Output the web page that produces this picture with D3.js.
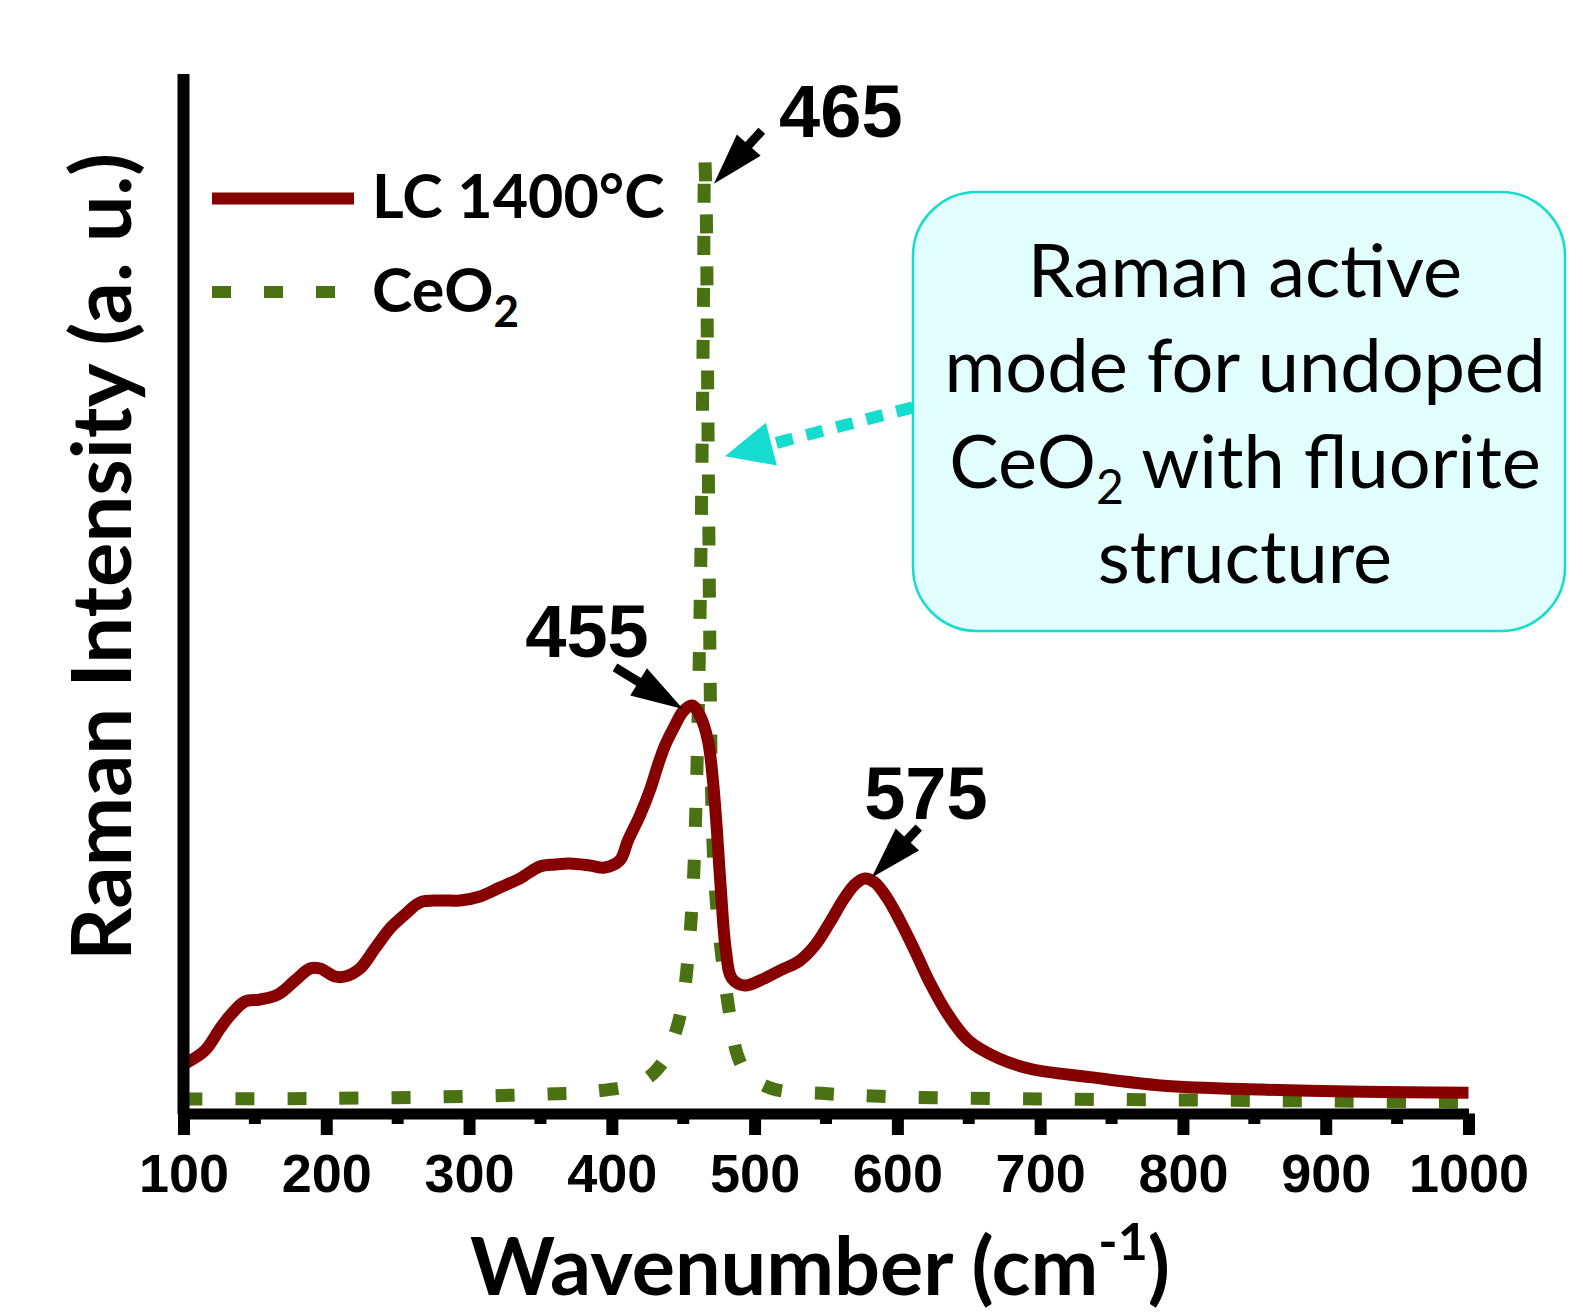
<html>
<head>
  <meta charset="utf-8">
  <script src="https://cdn.jsdelivr.net/npm/d3@7"></script>
  <style>
    body { margin: 0; background: #fff; }
  </style>
</head>
<body>
<svg id="chart" width="1583" height="1312"></svg>
<script>
// ---- data ----
// LC 1400°C spectrum : wavenumber (cm-1) / intensity (a.u.)
const lcWave = [101,115,125.6,132.6,143.1,153.6,166.2,178.1,188.6,195.6,206.1,213.1,223.6,234.1,244.6,255.1,265.6,279.6,293.6,307.6,321.6,335.6,349.6,360.2,370.6,384.6,395.1,405.6,411.3,419.6,426.6,432.2,437.2,444.2,449.8,456.1,461.7,467.3,470.8,473.6,476.4,479.9,484.1,493.2,503.7,517.7,531.7,542.2,552.7,561.8,570.2,577.2,584.2,592.6,601.7,612.2,622.7,636,650,671,692.8,734.8,784.5,855,926,1000]
const lcInt  = [4.8,6.06,8.17,9.42,10.77,10.96,11.44,12.79,13.94,13.94,13.17,13.17,13.94,15.87,17.79,19.13,20.29,20.48,20.48,20.87,21.73,22.6,23.75,23.94,24.04,23.85,23.65,24.33,26.25,28.65,31.06,33.46,35.38,37.31,38.65,39.23,38.27,35.87,32.02,27.21,21.44,15.67,12.98,12.31,12.79,13.75,14.71,16.15,18.37,20.48,22.02,22.6,22.21,20.77,18.56,15.67,12.6,9.4,7.0,5.3,4.3,3.5,2.7,2.3,2.1,2.0]

// CeO2 spectrum
const ceWave = [100,200,300,350,385,420,435,445,450,454,457,459,461,462.5,463.5,464.3,465,466,467,468,469,470,471.5,474,478,482,488,495,512,551,600,700,800,900,1000]
const ceInt  = [1.4,1.45,1.65,1.85,2.1,3.0,4.8,8,11,16,22,30,42,55,68,80,92,88,72,55,40,30,24,19,14,10,5.6,3.8,2.4,1.9,1.6,1.4,1.3,1.2,1.1]

const xTicks = [100,200,300,400,500,600,700,800,900,1000]
const xMinor = [150,250,350,450,550,650,750,850,950]

// peak labels: text, label anchor (wavenumber, intensity), arrow tail -> tip
const peakLabels = ["465","455","575"]
const peakLabelPos = [[560.4,93.9],[382.6,43.9],[620,28.3]]
const peakArrowFrom = [[505,94.5],[402.2,42.9],[615,27.5]]
const peakArrowTo   = [[471.5,89.4],[449.8,38.9],[582,22.7]]

const calloutLines = ["Raman active","mode for undoped","CeO|2| with fluorite","structure"]
const calloutArrowFrom = [610.8,67.9]
const calloutArrowTo = [479.2,63.2]

const legendNames = ["LC 1400°C","CeO|2"]

// ---- drawing ----
const svg = d3.select("#chart")
const RED = "#870000", GREEN = "#4a7212", CYAN = "#14dccf"
const numFont = "'Liberation Sans', Arial, sans-serif"
const txtFont = "Lato, 'Open Sans', sans-serif"

const x = d3.scaleLinear().domain([100,1000]).range([183.5,1468.5])
const y = d3.scaleLinear().domain([0,100]).range([1113.5,73.5])

// spectra
const line = d3.line().x(d => x(d[0])).y(d => y(d[1])).curve(d3.curveCatmullRom.alpha(0.5))

svg.append("path")
   .datum(d3.zip(ceWave, ceInt))
   .attr("d", line)
   .attr("fill","none")
   .attr("stroke",GREEN)
   .attr("stroke-width",13)
   .attr("stroke-dasharray","19,33")

svg.append("path")
   .datum(d3.zip(lcWave, lcInt))
   .attr("d", line)
   .attr("fill","none")
   .attr("stroke",RED)
   .attr("stroke-width",12)
   .attr("stroke-linejoin","round")

// axes
const gx = svg.append("g").attr("transform","translate(0,1113.5)")
gx.call(d3.axisBottom(x).tickValues(xTicks).tickFormat(d3.format("d"))
          .tickSize(21.5).tickSizeOuter(0).tickPadding(18.5))
gx.select(".domain").attr("stroke","#000").attr("stroke-width",11)
gx.selectAll(".tick line").attr("stroke-width",12)
gx.selectAll(".tick text")
  .attr("font-family",numFont).attr("font-weight","bold").attr("font-size",54).attr("fill","#000")

gx.selectAll(".minor")
  .data(xMinor)
  .enter()
  .append("line")
  .attr("class","minor")
  .attr("x1",d => x(d)).attr("x2",d => x(d))
  .attr("y1",0).attr("y2",10.5)
  .attr("stroke","#000").attr("stroke-width",12)

const gy = svg.append("g").attr("transform","translate(183,0)")
gy.call(d3.axisLeft(y).tickValues([]).tickSizeOuter(0))
gy.select(".domain").attr("stroke","#000").attr("stroke-width",12)

// axis titles
const xt = svg.append("text")
   .attr("x",820).attr("y",1295)
   .attr("text-anchor","middle")
   .attr("font-family",txtFont).attr("font-weight","bold").attr("font-size",81)
xt.append("tspan").text("Wavenumber (cm")
xt.append("tspan").text("-1").attr("font-size",52).attr("dy",-35)
xt.append("tspan").text(")").attr("dy",35)

svg.append("text")
   .attr("transform","translate(131,557) rotate(-90)")
   .attr("text-anchor","middle")
   .attr("font-family",txtFont).attr("font-weight","bold").attr("font-size",83)
   .text("Raman Intensity (a. u.)")

// helper for text with subscripts written as "CeO|2|..."
function subText(sel, str, subSize, drop){
  str.split("|").forEach(function(part,i){
    if(part==="") return
    const t = sel.append("tspan").text(part)
    if(i%2==1){ t.attr("font-size",subSize).attr("dy",drop) }
    else if(i>0){ t.attr("dy",-drop) }
  })
}

// legend
const legend = svg.append("g")
legend.append("line").attr("x1",212).attr("x2",354).attr("y1",198.5).attr("y2",198.5)
      .attr("stroke",RED).attr("stroke-width",12)
legend.append("line").attr("x1",212).attr("x2",340).attr("y1",292).attr("y2",292)
      .attr("stroke",GREEN).attr("stroke-width",12).attr("stroke-dasharray","19,33")
legendNames.forEach(function(n,i){
  const t = legend.append("text").attr("x",372).attr("y",[218,312][i])
      .attr("font-family",txtFont).attr("font-weight","bold").attr("font-size",61)
  subText(t, n, 44, 15)
})

// peak labels + black arrows
function arrow(g, from, to, color, shaft, headLen, headHalf, dash){
  const x0 = x(from[0]), y0 = y(from[1]), x1 = x(to[0]), y1 = y(to[1])
  const len = Math.hypot(x1-x0, y1-y0)
  const ux = (x1-x0)/len, uy = (y1-y0)/len
  const bx = x1 - ux*headLen, by = y1 - uy*headLen
  const l = g.append("line").attr("x1",x0).attr("y1",y0).attr("x2",bx+ux*2).attr("y2",by+uy*2)
   .attr("stroke",color).attr("stroke-width",shaft)
  if(dash) l.attr("stroke-dasharray",dash)
  g.append("path")
   .attr("d","M"+x1+","+y1+"L"+(bx-uy*headHalf)+","+(by+ux*headHalf)+"L"+(bx+uy*headHalf)+","+(by-ux*headHalf)+"Z")
   .attr("fill",color)
}

const ann = svg.append("g")
peakLabels.forEach(function(lab,i){
  ann.append("text")
     .attr("x",x(peakLabelPos[i][0])).attr("y",y(peakLabelPos[i][1]))
     .attr("text-anchor","middle")
     .attr("font-family",numFont).attr("font-weight","bold").attr("font-size",74)
     .text(lab)
  arrow(ann, peakArrowFrom[i], peakArrowTo[i], "#000", 9, 52, 16)
})

// callout box
const box = svg.append("g")
box.append("rect").attr("x",913).attr("y",192).attr("width",652).attr("height",439)
   .attr("rx",64).attr("ry",64)
   .attr("fill","#e3fefe").attr("stroke",CYAN).attr("stroke-width",2.5)
calloutLines.forEach(function(s,i){
  const t = box.append("text").attr("x",1245).attr("y",[297,392,488,583][i])
     .attr("text-anchor","middle")
     .attr("font-family",txtFont).attr("font-size",74)
  subText(t, s, 48, 16)
})
arrow(svg, calloutArrowFrom, calloutArrowTo, CYAN, 12, 48, 22, "17,14")
</script>
</body>
</html>
